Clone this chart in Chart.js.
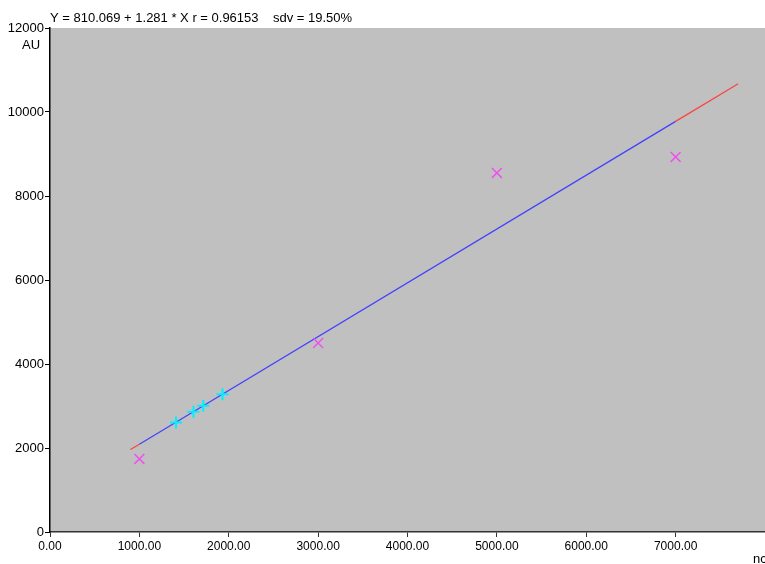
<!DOCTYPE html>
<html>
<head>
<meta charset="utf-8">
<script src="https://cdn.jsdelivr.net/npm/chart.js@4/dist/chart.umd.min.js"></script>
<style>
  html, body { margin: 0; padding: 0; background: #fff; }
  #wrap { width: 765px; height: 564px; }
</style>
</head>
<body>
<div id="wrap"><canvas id="cal"></canvas></div>
<script>
// calibration standards (pink crosses)
const stdX = [1000, 3000, 5000, 7000];
const stdY = [1740, 4500, 8550, 8930];

// samples read on the curve (cyan plus marks)
const smpX = [1410, 1605, 1715, 1930];
const smpY = [2610, 2865, 3005, 3280];

// regression line Y = 810.069 + 1.281 * X; the outer pieces are extrapolated (red)
const lineX = [900, 1000, 7000, 7700];
const lineY = [1963, 2091, 9777, 10674];

const xTicks = [0, 1000, 2000, 3000, 4000, 5000, 6000, 7000];
const yTicks = [0, 2000, 4000, 6000, 8000, 10000, 12000];

const titleText = 'Y = 810.069 + 1.281 * X r = 0.96153    sdv = 19.50%';

const toPts = (xs, ys) => xs.map((x, i) => ({ x: x, y: ys[i] }));

// grey plot background plus the loose texts
const decor = {
    id: 'decor',
    beforeDraw(chart) {
        const a = chart.chartArea;
        const c = chart.ctx;
        c.save();
        c.fillStyle = '#c0c0c0';
        c.fillRect(a.left, a.top, a.right - a.left, a.bottom - a.top);
        c.restore();
    },
    afterDraw(chart) {
        const c = chart.ctx;
        c.save();
        c.fillStyle = '#000';
        c.font = '13px "Liberation Sans", Arial, sans-serif';
        c.textBaseline = 'alphabetic';
        c.textAlign = 'left';
        c.fillText(titleText, 50, 22);
        c.textAlign = 'center';
        c.fillText('AU', 31, 49);
        c.textAlign = 'left';
        c.fillText('nc', 753, 563);
        c.restore();
    }
};

new Chart(document.getElementById('cal'), {
    type: 'scatter',
    data: {
        datasets: [
            {
                label: 'fit',
                type: 'line',
                order: 2,
                data: toPts(lineX, lineY),
                borderColor: '#4040ff',
                borderWidth: 1.2,
                pointRadius: 0,
                fill: false,
                segment: {
                    borderColor: (ctx) => (ctx.p0DataIndex === 1 ? '#4040ff' : '#ff4040'),
                },
            },
            {
                label: 'samples',
                order: 1,
                data: toPts(smpX, smpY),
                pointStyle: 'cross',
                pointRadius: 6,
                borderColor: '#00f0ff',
                borderWidth: 2,
            },
            {
                label: 'standards',
                order: 0,
                data: toPts(stdX, stdY),
                pointStyle: 'crossRot',
                pointRadius: 7,
                borderColor: '#f050f0',
                borderWidth: 1.5,
            },
        ],
    },
    options: {
        responsive: true,
        maintainAspectRatio: false,
        animation: false,
        layout: { autoPadding: false, padding: { top: 28, right: 0, left: 0, bottom: 0 } },
        plugins: {
            legend: { display: false },
            tooltip: { enabled: false },
        },
        scales: {
            x: {
                type: 'linear',
                min: 0,
                max: 8000,
                afterBuildTicks: (s) => { s.ticks = xTicks.map(v => ({ value: v })); },
                afterFit: (s) => { s.height = 32; },
                border: { display: true, color: '#333', width: 1.5 },
                grid: { drawOnChartArea: false, drawTicks: true, tickLength: 5, color: '#333' },
                ticks: {
                    color: '#000',
                    padding: 2,
                    maxRotation: 0,
                    autoSkip: false,
                    font: { family: '"Liberation Sans", Arial', size: 12 },
                    callback: (v) => v.toFixed(2),
                },
            },
            y: {
                type: 'linear',
                min: 0,
                max: 12000,
                afterBuildTicks: (s) => { s.ticks = yTicks.map(v => ({ value: v })); },
                afterFit: (s) => { s.width = 50; },
                border: { display: true, color: '#000', width: 1.5 },
                grid: { drawOnChartArea: false, drawTicks: true, tickLength: 5, color: '#000' },
                ticks: {
                    color: '#000',
                    padding: 1,
                    font: { family: '"Liberation Sans", Arial', size: 13 },
                    callback: (v) => String(v),
                },
            },
        },
    },
    plugins: [decor],
});
</script>
</body>
</html>
